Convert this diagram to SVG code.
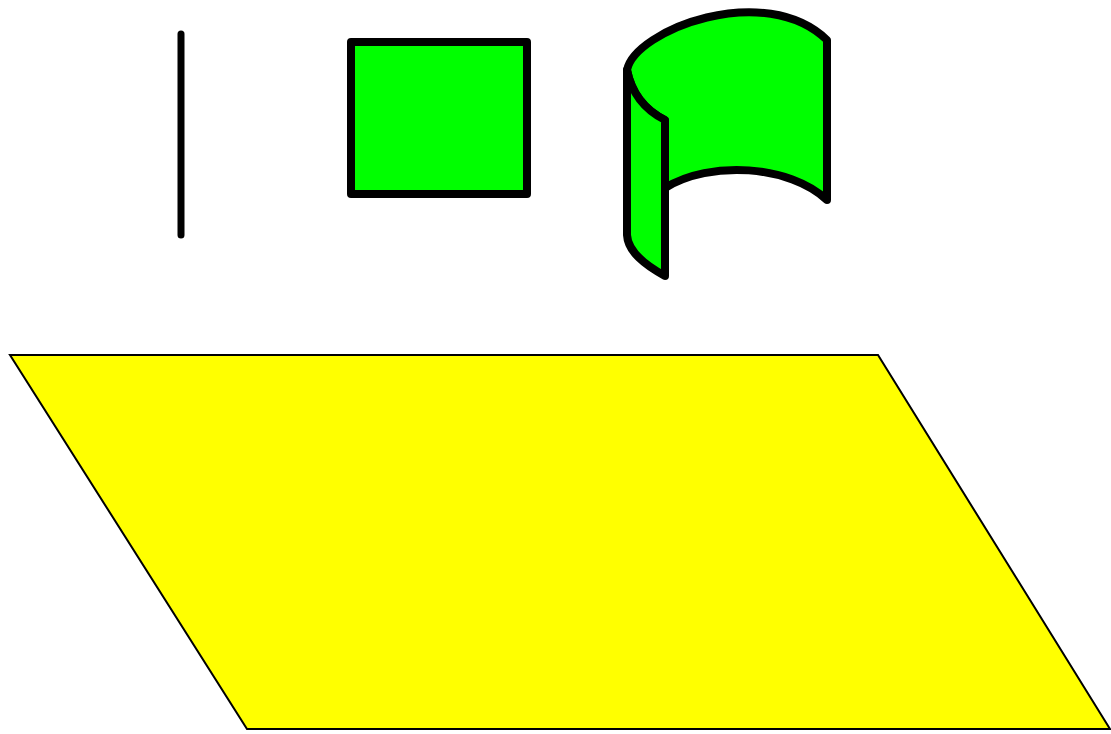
<svg xmlns="http://www.w3.org/2000/svg" width="1111" height="734" viewBox="0 0 1111 734">
<style>
.g{fill:#00ff00;stroke:#000;stroke-width:8;stroke-linejoin:round;stroke-linecap:round}
</style>
<rect width="1111" height="734" fill="#fff"/>
<g id="line"><line x1="181" y1="34" x2="181" y2="235" stroke="#000" stroke-width="7" stroke-linecap="round"/></g>
<g id="square"><rect class="g" x="351" y="42" width="176" height="152"/></g>
<g id="curved">
<path class="g" d="M627,70 C635,30 765,-20 827,40 L827,200 C790,165 710,160 665,188 L665,120 C645,110 632,95 627,70 Z"/>
<path class="g" d="M627,70 C632,95 645,110 665,120 L665,276 C645,265 628,252 627,235 Z"/>
</g>
<g id="plane"><polygon points="10,355 878,355 1110,729 247,729" fill="#ffff00" stroke="#000" stroke-width="2"/></g>
</svg>
